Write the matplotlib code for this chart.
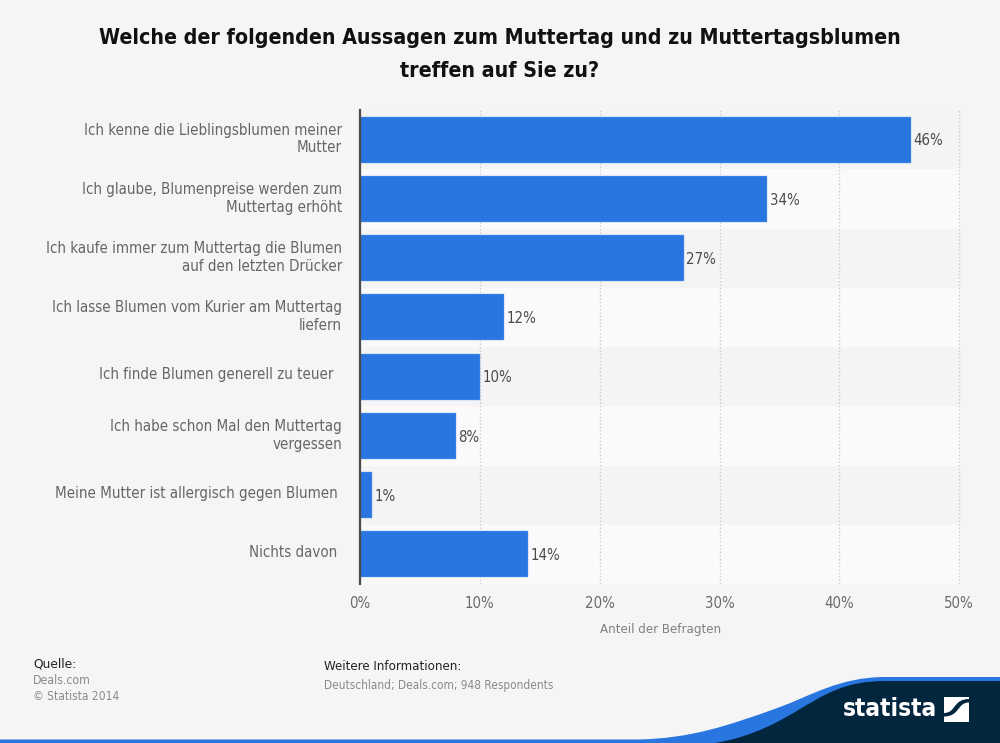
import matplotlib
matplotlib.use("Agg")
import matplotlib.pyplot as plt
from matplotlib.path import Path
from matplotlib.patches import PathPatch, Rectangle
from matplotlib.transforms import ScaledTranslation

categories = [
    "Ich kenne die Lieblingsblumen meiner\nMutter",
    "Ich glaube, Blumenpreise werden zum\nMuttertag erhöht",
    "Ich kaufe immer zum Muttertag die Blumen\nauf den letzten Drücker",
    "Ich lasse Blumen vom Kurier am Muttertag\nliefern",
    "Ich finde Blumen generell zu teuer  ",
    "Ich habe schon Mal den Muttertag\nvergessen",
    "Meine Mutter ist allergisch gegen Blumen ",
    "Nichts davon ",
]
values = [46, 34, 27, 12, 10, 8, 1, 14]
xticks = [0, 10, 20, 30, 40, 50]

W, H = 1000, 743
BG = "#f5f5f5"
BLUE = "#2976e0"
NAVY = "#03263f"
FONT = "DejaVu Sans"
STRETCH = "condensed"

fig = plt.figure(figsize=(W / 100, H / 100), dpi=100, facecolor=BG)
ax = fig.add_axes([360 / W, 1 - 584 / H, 601 / W, 474 / H])
ax.set_facecolor("none")
n = len(values)
ax.set_xlim(0, 50.15)
ax.set_ylim(n - 0.5, -0.5)
for i in range(n):
    ax.axhspan(i - 0.5, i + 0.5, color="#fafafa" if i % 2 else "#f4f4f4", lw=0, zorder=0)
ax.xaxis.grid(True, color="#cccccc", ls=(0, (1, 1.5)), lw=1, zorder=1)
ax.set_axisbelow(True)
ax.barh(range(n), values, height=0.78, color=BLUE, edgecolor="#6fa3ea", lw=0.3, zorder=2)
for i, v in enumerate(values):
    ax.text(v + 0.2, i + 0.02, f"{v}%", va="center", ha="left", fontsize=10.7,
            color="#4a4a4a", family=FONT, stretch=STRETCH)
for s in ["top", "right", "bottom"]:
    ax.spines[s].set_visible(False)
ax.spines["left"].set_color("#4a4a4a")
ax.spines["left"].set_linewidth(1.6)
ax.set_xticks(xticks)
ax.set_xticklabels([f"{t}%" for t in xticks], fontsize=10.7, color="#6a6a6a",
                   family=FONT, stretch=STRETCH)
ax.set_yticks(range(n))
ax.set_yticklabels(categories, fontsize=10.85, color="#666666", family=FONT,
                   stretch=STRETCH, ha="right", linespacing=1.22)
ax.tick_params(axis="both", length=0)
ax.tick_params(axis="x", pad=9)
ax.tick_params(axis="y", pad=13)
shift = ScaledTranslation(0, 3.5 / 100, fig.dpi_scale_trans)
for lab in ax.get_yticklabels():
    lab.set_transform(lab.get_transform() + shift)
ax.set_xlabel("Anteil der Befragten", fontsize=8.6, color="#808080", labelpad=8)

ov = fig.add_axes([0, 0, 1, 1], facecolor="none", zorder=5)
ov.set_xlim(0, W)
ov.set_ylim(H, 0)
ov.axis("off")

ov.text(499.5, 38, "Welche der folgenden Aussagen zum Muttertag und zu Muttertagsblumen",
        ha="center", va="center", fontsize=15.3, weight="bold", color="#111111",
        family=FONT, stretch=STRETCH)
ov.text(499.5, 71, "treffen auf Sie zu?", ha="center", va="center", fontsize=15.3,
        weight="bold", color="#111111", family=FONT, stretch=STRETCH)

ov.text(33, 664, "Quelle:", fontsize=8.8, color="#222222", va="center")
ov.text(33, 680.5, "Deals.com", fontsize=8.8, color="#8a8a8a", va="center", stretch=STRETCH)
ov.text(33, 697, "© Statista 2014", fontsize=8.6, color="#8a8a8a", va="center", stretch=STRETCH)
ov.text(324, 666, "Weitere Informationen:", fontsize=8.6, color="#222222", va="center")
ov.text(324, 685, "Deutschland; Deals.com; 948 Respondents", fontsize=8.5, color="#8a8a8a",
        va="center", stretch=STRETCH)

# footer wave
C = Path.CURVE4
L = Path.LINETO
blue = Path([(0, 739.5), (640, 739.5), (690, 738), (725, 727), (780, 707),
             (810, 696), (840, 677), (885, 677),
             (1000, 677), (1000, 743), (0, 743), (0, 739.5)],
            [Path.MOVETO, L, C, C, C, C, C, C, L, L, L, Path.CLOSEPOLY])
ov.add_patch(PathPatch(blue, fc=BLUE, lw=0))
navy = Path([(715, 743), (745, 738), (770, 727), (795, 712),
             (825, 694), (845, 681), (885, 681),
             (1000, 681), (1000, 743), (715, 743)],
            [Path.MOVETO, C, C, C, C, C, C, L, L, Path.CLOSEPOLY])
ov.add_patch(PathPatch(navy, fc=NAVY, lw=0))
ov.text(843, 709, "statista", fontsize=17.5, weight="bold", color="white", va="center",
        ha="left", family=FONT, stretch=STRETCH)
ov.add_patch(Rectangle((944, 697), 25, 25, fc="white", lw=0))
band = Path([(944, 713), (956, 713), (953, 699), (969, 699),
             (969, 702.5), (957, 702.5), (960, 716.5), (944, 716.5), (944, 713)],
            [Path.MOVETO, C, C, C, L, C, C, C, Path.CLOSEPOLY])
ov.add_patch(PathPatch(band, fc=NAVY, lw=0))

fig.savefig("out.png", dpi=100, facecolor=BG)
